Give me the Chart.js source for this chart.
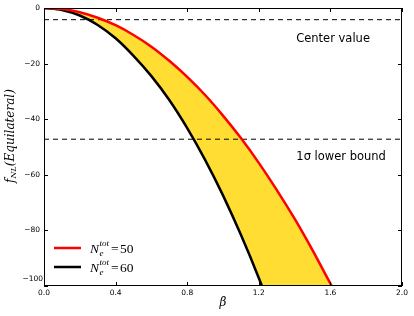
<!DOCTYPE html>
<html><head><meta charset="utf-8">
<script src="https://cdn.jsdelivr.net/npm/chart.js@4/dist/chart.umd.min.js"></script>
<style>html,body{margin:0;padding:0;background:#fff}#wrap{width:414px;height:316px}</style>
</head><body><div id="wrap"><canvas id="c" width="414" height="316"></canvas></div>
<script>
const betas = [0,0.1,0.2,0.3,0.4,0.5,0.6,0.7,0.8,0.9,1.0,1.1,1.2,1.3,1.4,1.5,1.6,1.65];
const fRed50 = [0,-0.4,-1.5,-3.5,-6.2,-9.7,-13.9,-19.0,-24.8,-31.3,-38.7,-46.8,-55.7,-65.4,-75.8,-87.1,-99.1,-104.5];
const fBlack60 = [0,-0.7,-2.7,-6.1,-10.9,-17.2,-24.5,-33.1,-43.2,-54.6,-67.4,-81.6,-97.1,-114,-132,-152,-173,-184];
const centerValue = -4.2;
const lowerBound = -47.2;
const xTicks = [0,0.4,0.8,1.2,1.6,2.0];
const yTicks = [0,-20,-40,-60,-80,-100];
const legendLabels = ['50','60'];

const toXY = (xs, ys) => xs.map((x,i)=>({x:x,y:ys[i]}));
const M = '\u2212';

const deco = {
  id:'deco',
  afterDraw(chart){
    const ctx = chart.ctx, a = chart.chartArea, xs = chart.scales.x, ys = chart.scales.y;
    ctx.save();
    ctx.strokeStyle = '#000'; ctx.lineWidth = 1;
    ctx.strokeRect(Math.round(a.left)+0.5, Math.round(a.top)+0.5, Math.round(a.right-a.left)-1, Math.round(a.bottom-a.top)-1);
    ctx.beginPath();
    xTicks.forEach(v=>{const p=Math.round(xs.getPixelForValue(v))+0.5;
      ctx.moveTo(p,a.bottom); ctx.lineTo(p,a.bottom-4); ctx.moveTo(p,a.top); ctx.lineTo(p,a.top+4);});
    yTicks.forEach(v=>{const p=Math.round(ys.getPixelForValue(v))+0.5;
      ctx.moveTo(a.left,p); ctx.lineTo(a.left+4,p); ctx.moveTo(a.right,p); ctx.lineTo(a.right-4,p);});
    ctx.stroke();
    // tick labels
    ctx.fillStyle='#000'; ctx.font='7.5px "DejaVu Sans"';
    ctx.textAlign='center'; ctx.textBaseline='top';
    xTicks.forEach(v=>ctx.fillText(v.toFixed(1), xs.getPixelForValue(v), a.bottom+3));
    ctx.textAlign='right'; ctx.textBaseline='middle';
    yTicks.forEach(v=>{
      const t = v<0 ? M+Math.abs(v) : String(v);
      if(v===-100) ctx.fillText(t, a.left-1, ys.getPixelForValue(v)-7);
      else ctx.fillText(t, a.left-4, ys.getPixelForValue(v));
    });
    // annotations
    ctx.font='11.5px "DejaVu Sans"'; ctx.textAlign='center'; ctx.textBaseline='middle';
    ctx.fillText('Center value', xs.getPixelForValue(1.615), ys.getPixelForValue(-11.2));
    ctx.fillText('1\u03c3 lower bound', xs.getPixelForValue(1.66), ys.getPixelForValue(-53.6));
    // legend
    const cols=['#ff0000','#000000'];
    const ly=[248,267];
    for(let i=0;i<2;i++){
      ctx.strokeStyle=cols[i]; ctx.lineWidth=2.5; ctx.beginPath();
      ctx.moveTo(54,ly[i]); ctx.lineTo(81,ly[i]); ctx.stroke();
      ctx.textAlign='left'; ctx.textBaseline='alphabetic';
      let x=90; const base=ly[i]+5;
      ctx.font='italic 13.5px "Liberation Serif"'; ctx.fillText('N',x,base); x+=ctx.measureText('N').width+0.5;
      ctx.font='italic 9px "Liberation Serif"'; ctx.fillText('e',x,base+3); ctx.fillText('tot',x,base-7);
      x+=ctx.measureText('tot').width+2;
      ctx.font='13.5px "Liberation Serif"'; ctx.fillText('=',x,base); x+=ctx.measureText('=').width+1.5;
      ctx.fillText(legendLabels[i],x,base);
    }
    // x label
    ctx.font='italic 12px "DejaVu Serif"'; ctx.textAlign='center'; ctx.textBaseline='middle';
    ctx.fillText('\u03b2', (a.left+a.right)/2, 303);
    // y label
    ctx.translate(11, 136); ctx.rotate(-Math.PI/2);
    ctx.textAlign='left'; ctx.textBaseline='middle';
    const parts=[['f','italic 12px "DejaVu Serif"',0],['NL','italic 8px "DejaVu Serif"',3],['(Equilateral)','italic 12px "DejaVu Serif"',0]];
    let w=0; parts.forEach(p=>{ctx.font=p[1]; w+=ctx.measureText(p[0]).width;});
    let x=-w/2; parts.forEach(p=>{ctx.font=p[1]; ctx.fillText(p[0],x,p[2]); x+=ctx.measureText(p[0]).width;});
    ctx.restore();
  }
};

new Chart(document.getElementById('c'), {
  type:'line',
  data:{datasets:[
    {label:'N50', data:toXY(betas,fRed50), borderColor:'#ff0000', borderWidth:2.5, pointRadius:0, tension:0.3, fill:'+1', backgroundColor:'rgb(255,221,51)'},
    {label:'N60', data:toXY(betas,fBlack60), borderColor:'#000000', borderWidth:2.5, pointRadius:0, tension:0.3, fill:false},
    {label:'c', data:[{x:0,y:centerValue},{x:2,y:centerValue}], borderColor:'#000', borderWidth:1, borderDash:[5,4], pointRadius:0, fill:false},
    {label:'l', data:[{x:0,y:lowerBound},{x:2,y:lowerBound}], borderColor:'#000', borderWidth:1, borderDash:[5,4], pointRadius:0, fill:false}
  ]},
  options:{
    responsive:false, animation:false, devicePixelRatio:1,
    layout:{padding:{left:0,right:12,top:8,bottom:0}},
    plugins:{legend:{display:false}, tooltip:{enabled:false}, filler:{drawTime:'beforeDatasetsDraw'}},
    scales:{
      x:{type:'linear', min:0, max:2,
        afterBuildTicks(s){s.ticks=xTicks.map(v=>({value:v}));},
        afterFit(s){s.height=30;},
        grid:{display:false}, border:{display:false},
        ticks:{display:false}},
      y:{type:'linear', min:-100, max:0,
        afterBuildTicks(s){s.ticks=yTicks.map(v=>({value:v}));},
        afterFit(s){s.width=44;},
        grid:{display:false}, border:{display:false},
        ticks:{display:false}}
    }
  },
  plugins:[deco]
});
</script></body></html>
